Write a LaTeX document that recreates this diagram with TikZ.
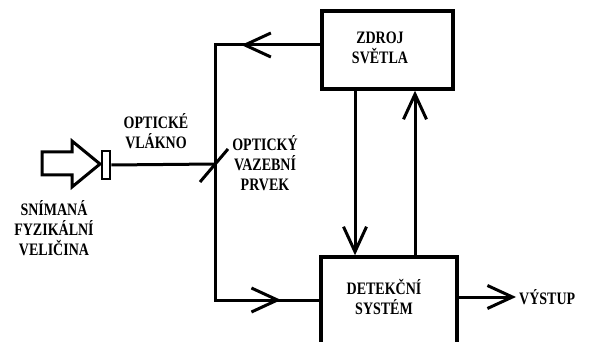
\documentclass[tikz,border=0pt]{standalone}
\usepackage{fontspec}
\setmainfont{Liberation Serif}[FakeStretch=0.8]
\usetikzlibrary{arrows.meta,decorations.markings}

\tikzset{
  wire/.style={line width=3pt, line cap=butt, line join=miter},
  block/.style={draw, line width=3.4pt, rectangle, inner sep=0pt},
  lbl/.style={font=\bfseries\fontsize{17.5}{20}\selectfont, align=center, inner sep=1pt},
  barb/.style={-{Straight Barb[length=25pt, width=23pt, line width=3pt]}},
  midbarb/.style={postaction={decorate},
    decoration={markings, mark=at position #1 with
      {\arrow{Straight Barb[length=26pt, width=24pt, line width=3pt]}}}}
}

\begin{document}
\begin{tikzpicture}[x=1pt, y=-1pt]
  \clip (0,0) rectangle (592,342);
  \fill[white] (0,0) rectangle (592,342);

  % blocks
  \node[block, minimum width=131pt, minimum height=78pt] (zdroj) at (387.5,50) {};
  \node[lbl] (zdrojtxt) at (380,48) {ZDROJ\\SVĚTLA};
  \node[block, minimum width=136pt, minimum height=90pt] (det) at (389,302) {};
  \node[lbl] (dettxt) at (384,297) {DETEKČNÍ\\SYSTÉM};

  % sensed quantity: hollow block arrow and fibre connector
  \draw[line width=3pt, line join=miter]
    (42,152) -- (72,152) -- (72,141) -- (100,164) -- (72,187) -- (72,175)
    -- (42,175) -- cycle;
  \node[draw, line width=2.6pt, minimum width=8pt, minimum height=28pt,
        inner sep=0pt] (conn) at (106,165) {};

  % optical coupler
  \coordinate (cpl) at (215,164);
  \draw[line width=3pt] (200,182) -- (228,149);

  % routing points
  \coordinate (tl) at (215,45);
  \coordinate (bl) at (215,300);
  \coordinate (dn) at (355,0);
  \coordinate (up) at (415,0);

  % connectors
  \draw[wire] (conn.east) -- (cpl);
  \draw[wire, midbarb=79pt] (zdroj.west |- tl) -- (tl) -- (cpl);
  \draw[wire, midbarb=202pt] (cpl) -- (bl) -- (det.west |- bl);
  \draw[wire, barb] (zdroj.south -| dn) -- (det.north -| dn);
  \draw[wire, barb] (det.north -| up) -- (zdroj.south -| up);

  \node[lbl, anchor=west, inner sep=0pt] (out) at (519,297) {VÝSTUP};
  \draw[wire, barb] (det.east |- out.west) -- ([xshift=-3pt]out.west);

  % labels
  \node[lbl] (fibre) at (156,131) {OPTICKÉ\\VLÁKNO};
  \node[lbl] (couple) at (265,163) {OPTICKÝ\\VAZEBNÍ\\PRVEK};
  \node[lbl] (quant) at (54,228) {SNÍMANÁ\\FYZIKÁLNÍ\\VELIČINA};
\end{tikzpicture}
\end{document}
